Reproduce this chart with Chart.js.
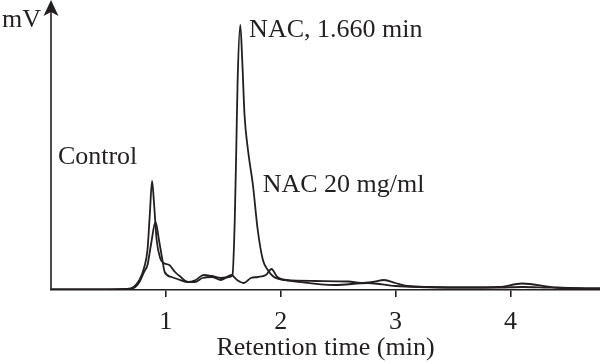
<!DOCTYPE html>
<html>
<head>
<meta charset="utf-8">
<script src="https://cdn.jsdelivr.net/npm/chart.js@4"></script>
<style>
  html, body { margin: 0; padding: 0; background: #fff; }
  #wrap { width: 600px; height: 364px; }
</style>
</head>
<body>
<div id="wrap"><canvas id="hplcChart"></canvas></div>
<script>
// retention time (min) / signal (arbitrary mV units)
const controlTime = [0, 0.5, 0.66, 0.72, 0.77, 0.81, 0.84, 0.86, 0.88, 0.895, 0.92, 0.95, 0.98, 1.03, 1.08, 1.13, 1.19, 1.25, 1.32, 1.40, 1.48, 1.57, 1.62, 1.68, 1.74, 1.80, 1.87, 1.92, 1.97, 2.05, 2.3, 2.59, 2.7, 2.8, 2.9, 3.0, 3.1, 3.3, 3.6, 3.9, 4.1, 4.3, 4.45, 4.78];
const controlSignal = [0.5, 0.5, 1, 3, 10, 22, 40, 75, 109, 90, 50, 32, 27, 25, 18, 13, 8, 8, 12, 13, 10, 15, 10, 7, 12, 13, 15, 21, 13, 10, 9, 8.5, 7, 8, 10, 7, 4, 3, 2.5, 2.5, 3, 2.5, 2, 1.5];

const nacTime = [0, 0.5, 0.66, 0.72, 0.77, 0.81, 0.84, 0.87, 0.91, 0.94, 0.97, 0.99, 1.05, 1.10, 1.19, 1.26, 1.33, 1.40, 1.48, 1.55, 1.58, 1.60, 1.613, 1.625, 1.648, 1.665, 1.685, 1.715, 1.758, 1.80, 1.845, 1.888, 1.93, 1.98, 2.1, 2.47, 2.76, 3.0, 3.2, 3.6, 3.9, 4.1, 4.4, 4.78];
const nacSignal = [0.5, 0.5, 1, 2, 8, 18, 25, 45, 68, 50, 30, 18, 13, 11, 8, 10, 15, 14, 12, 13, 15, 70, 140, 210, 265, 230, 175, 140, 105, 60, 30, 20, 14, 11, 9, 5, 7, 4, 3, 2.5, 3, 6.5, 2.5, 1.5];

const xTicks = [1, 2, 3, 4];
const ink = "#231f20";
const serif = "'Liberation Serif', 'Times New Roman', serif";

function pairs(xs, ys) {
  return xs.map((x, i) => ({ x: x, y: ys[i] }));
}

// y axis line with arrow head, plus the peak labels
const annotate = {
  id: "annotate",
  afterDraw(chart) {
    const { ctx, chartArea, scales } = chart;
    const x0 = chartArea.left;
    ctx.save();
    ctx.strokeStyle = ink;
    ctx.fillStyle = ink;
    ctx.lineWidth = 1.6;
    ctx.beginPath();
    ctx.moveTo(x0, chartArea.bottom);
    ctx.lineTo(x0, 12);
    ctx.stroke();
    ctx.beginPath();
    ctx.moveTo(x0, 0);
    ctx.lineTo(x0 + 7.5, 16);
    ctx.lineTo(x0, 12);
    ctx.lineTo(x0 - 7.5, 16);
    ctx.closePath();
    ctx.fill();

    ctx.font = "26px " + serif;
    ctx.textBaseline = "alphabetic";
    ctx.textAlign = "right";
    ctx.fillText("mV", x0 - 10, 27);

    ctx.textAlign = "left";
    const labels = [
      ["NAC, 1.660 min", 1.725, 253],
      ["Control", 0.06, 126],
      ["NAC 20 mg/ml", 1.843, 98]
    ];
    labels.forEach(([t, x, y]) => {
      ctx.fillText(t, scales.x.getPixelForValue(x), scales.y.getPixelForValue(y));
    });
    ctx.restore();
  }
};

new Chart(document.getElementById("hplcChart"), {
  type: "line",
  data: {
    datasets: [
      {
        label: "Control",
        data: pairs(controlTime, controlSignal),
        borderColor: ink,
        borderWidth: 1.8,
        pointRadius: 0,
        cubicInterpolationMode: "monotone"
      },
      {
        label: "NAC 20 mg/ml",
        data: pairs(nacTime, nacSignal),
        borderColor: ink,
        borderWidth: 1.8,
        pointRadius: 0,
        cubicInterpolationMode: "monotone"
      }
    ]
  },
  options: {
    responsive: true,
    maintainAspectRatio: false,
    animation: false,
    layout: { padding: { left: 51, top: 2, right: 0, bottom: 0 } },
    plugins: {
      legend: { display: false },
      tooltip: { enabled: false }
    },
    scales: {
      x: {
        type: "linear",
        min: 0,
        max: 4.78,
        afterBuildTicks: (scale) => { scale.ticks = xTicks.map(v => ({ value: v })); },
        afterFit: (scale) => { scale.height = 74; },
        border: { color: ink, width: 1.6 },
        grid: { drawOnChartArea: false, drawTicks: true, tickLength: 7, color: ink, lineWidth: 1.6 },
        ticks: { color: ink, padding: 10, font: { family: serif, size: 26 }, maxRotation: 0 },
        title: {
          display: true,
          text: "Retention time (min)",
          color: ink,
          font: { family: serif, size: 26 },
          padding: { top: 0, bottom: 0 }
        }
      },
      y: {
        display: false,
        min: 0,
        max: 288
      }
    }
  },
  plugins: [annotate]
});
</script>
</body>
</html>
